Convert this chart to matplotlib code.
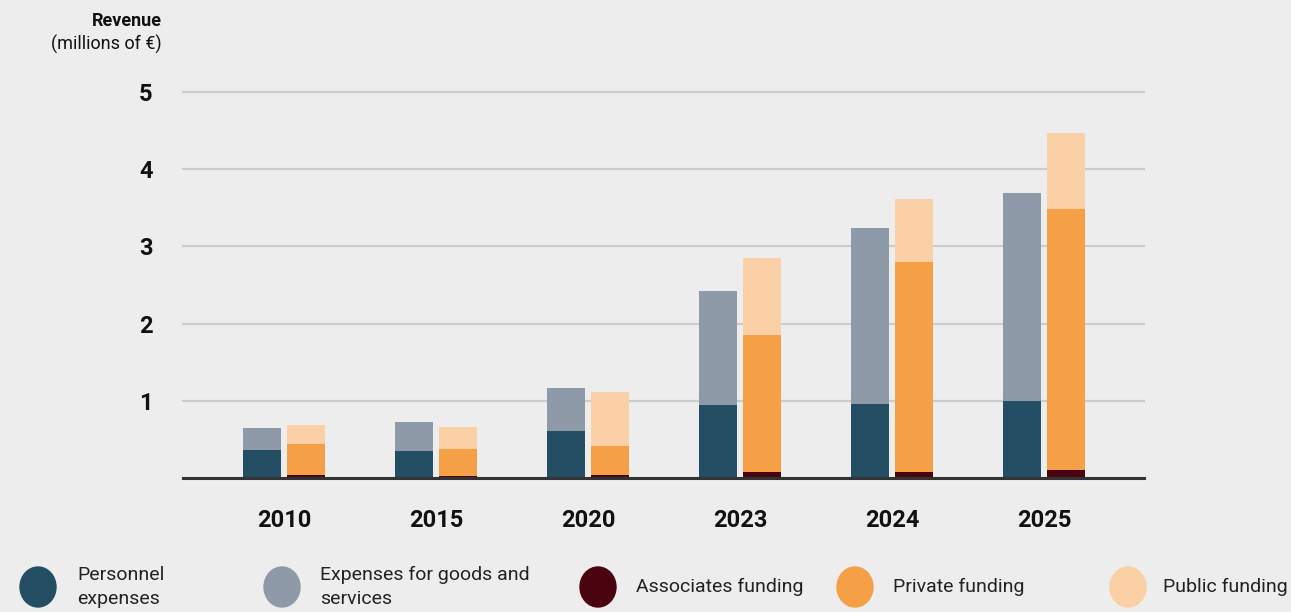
import numpy as np
import matplotlib
matplotlib.use("Agg")
import matplotlib.pyplot as plt
from matplotlib.patches import Ellipse

plt.rcParams["font.family"] = ["Roboto", "DejaVu Sans"]

years = ["2010", "2015", "2020", "2023", "2024", "2025"]

# expenses (left bar)
personnel = [0.36, 0.35, 0.61, 0.95, 0.96, 1.00]
goods     = [0.29, 0.38, 0.56, 1.47, 2.28, 2.69]

# funding (right bar)
associates = [0.04, 0.025, 0.04, 0.08, 0.08, 0.10]
private    = [0.40, 0.35, 0.37, 1.77, 2.72, 3.38]
public     = [0.25, 0.285, 0.70, 1.00, 0.81, 0.99]

yticks = [1, 2, 3, 4, 5]

C_PERS = "#234e63"
C_GOODS = "#8e9aa7"
C_ASSOC = "#4a0410"
C_PRIV = "#f5a047"
C_PUB = "#fcd0a6"
BG = "#ededed"

fig = plt.figure(figsize=(12.91, 6.12), dpi=100, facecolor=BG)
ax = fig.add_axes([183 / 1291, 1 - 478 / 612, (1144 - 183) / 1291, (478 - 92) / 612])
ax.set_facecolor(BG)

x = np.arange(len(years))
w = 0.25
off = 0.145

ax.bar(x - off, personnel, w, color=C_PERS, zorder=3)
ax.bar(x - off, goods, w, bottom=personnel, color=C_GOODS, zorder=3)

b1 = np.array(associates)
b2 = b1 + np.array(private)
ax.bar(x + off, associates, w, color=C_ASSOC, zorder=3)
ax.bar(x + off, private, w, bottom=b1, color=C_PRIV, zorder=3)
ax.bar(x + off, public, w, bottom=b2, color=C_PUB, zorder=3)

ax.set_xlim(-0.664, 5.658)
ax.set_ylim(0, 5)
for t in yticks:
    ax.axhline(t, color="#cccccc", lw=1.6, zorder=1, clip_on=False)
ax.axhline(0, color="#333333", lw=2.2, zorder=4, clip_on=False)

for s in ax.spines.values():
    s.set_visible(False)

ax.set_yticks(yticks)
ax.set_yticklabels([str(t) for t in yticks], fontsize=17, fontweight="bold")
ax.set_xticks(x)
ax.set_xticklabels(years, fontsize=17, fontweight="bold")
ax.tick_params(axis="both", length=0, colors="#111111")
ax.tick_params(axis="y", pad=22)
ax.tick_params(axis="x", pad=22)

fig.text(162 / 1291, 1 - 21 / 612, "Revenue", ha="right", va="center",
         fontsize=13, fontweight="bold", color="#111111")
fig.text(162 / 1291, 1 - 44 / 612, "(millions of €)", ha="right", va="center",
         fontsize=13, color="#111111")

# legend
legend_items = [
    ("Personnel\nexpenses", C_PERS, 38, 77),
    ("Expenses for goods and\nservices", C_GOODS, 282, 320),
    ("Associates funding", C_ASSOC, 598, 636),
    ("Private funding", C_PRIV, 855, 893),
    ("Public funding", C_PUB, 1128, 1163),
]
ly = 1 - 587 / 612
for label, col, cx, tx in legend_items:
    fig.add_artist(Ellipse((cx / 1291, ly), 36 / 1291, 40 / 612,
                           transform=fig.transFigure, color=col))
    fig.text(tx / 1291, ly, label, ha="left", va="center", fontsize=14,
             color="#222222", linespacing=1.4)

fig.savefig("out.png", dpi=100, facecolor=BG)
